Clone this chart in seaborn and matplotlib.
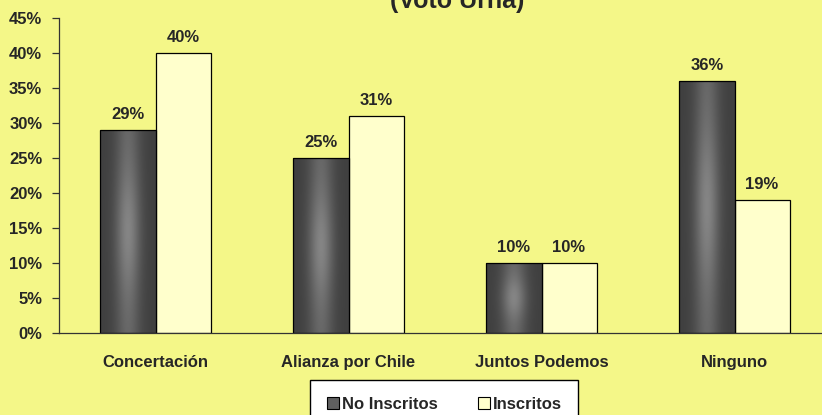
import numpy as np
import pandas as pd
import matplotlib
matplotlib.use("Agg")
import matplotlib.pyplot as plt
import seaborn as sns
from matplotlib.lines import Line2D

# datos
categorias = ["Concertación", "Alianza por Chile", "Juntos Podemos", "Ninguno"]
no_inscritos = [29, 25, 10, 36]
inscritos = [40, 31, 10, 19]
series = ["No Inscritos", "Inscritos"]
titulo = "(Voto Urna)"
yticks = [0, 5, 10, 15, 20, 25, 30, 35, 40, 45]

fondo = "#F4F788"
claro = "#FFFFCC"
oscuro = "#454545"

df = pd.DataFrame({
    "categoria": categorias * 2,
    "serie": [series[0]] * len(categorias) + [series[1]] * len(categorias),
    "valor": no_inscritos + inscritos,
})

sns.set_style("white")
plt.rcParams["font.family"] = ["Liberation Sans", "DejaVu Sans"]
plt.rcParams["font.weight"] = "bold"

fig = plt.figure(figsize=(8.22, 4.15), dpi=100, facecolor=fondo)
ax = fig.add_axes([59 / 822, 1 - 333 / 415, 772 / 822, 315 / 415])
ax.set_facecolor(fondo)

sns.barplot(data=df, x="categoria", y="valor", hue="serie", order=categorias,
            hue_order=series, palette=[oscuro, claro], width=0.57,
            edgecolor="black", linewidth=0.9, saturation=1, ax=ax, legend=False)

# degradado en las barras oscuras
n = len(categorias)
u = np.linspace(-1, 1, 60)
v = np.linspace(-1, 1, 120)
U, V = np.meshgrid(u, v)
brillo = np.exp(-(U / 0.45) ** 2) * (0.55 + 0.45 * np.exp(-(V / 0.6) ** 2))
for p in ax.patches[:n]:
    x0, y0 = p.get_x(), p.get_y()
    w, h = p.get_width(), p.get_height()
    g = 0.25 + 0.27 * brillo
    img = np.dstack([g, g, g])
    im = ax.imshow(img, extent=[x0, x0 + w, y0, y0 + h], aspect="auto",
                   origin="lower", zorder=1.5, interpolation="bilinear")
    im.set_clip_path(p)
    p.set_facecolor("none")
    p.set_zorder(2)

# etiquetas de valores
for p in ax.patches[:2 * n]:
    ax.annotate(f"{p.get_height():.0f}%", (p.get_x() + p.get_width() / 2, p.get_height()),
                xytext=(0, 6), textcoords="offset points", ha="center", va="bottom",
                fontsize=12, fontweight="bold")

ax.set_xlim(-0.5, n - 0.5)
ax.set_ylim(0, 45)
ax.set_yticks(yticks)
ax.set_yticklabels([f"{t}%" for t in yticks])
ax.set_xlabel("")
ax.set_ylabel("")

ax.set_xticks(np.arange(-0.5, n, 1.0), minor=True)
ax.tick_params(axis="x", which="major", length=0, pad=16, labelsize=12)
ax.tick_params(axis="x", which="minor", length=5, width=0.9, color="#333333", direction="out")
ax.tick_params(axis="y", length=5, width=0.9, color="#333333", direction="out",
               pad=7, labelsize=12, left=True)
for lab in ax.get_xticklabels() + ax.get_yticklabels():
    lab.set_fontweight("bold")

sns.despine(ax=ax)
for s in ["left", "bottom"]:
    ax.spines[s].set_color("#333333")
    ax.spines[s].set_linewidth(0.9)

fig.text(457 / 822, 1 - 8 / 415, titulo, ha="center", va="baseline",
         fontsize=18, fontweight="bold")

handles = [
    Line2D([], [], marker="s", linestyle="none", markersize=8,
           markerfacecolor="#606060", markeredgecolor="black", markeredgewidth=0.8),
    Line2D([], [], marker="s", linestyle="none", markersize=8,
           markerfacecolor=claro, markeredgecolor="black", markeredgewidth=0.8),
]
leg = fig.legend(handles, series, loc="upper left", bbox_to_anchor=(310 / 822, 1 - 380 / 415),
                 ncol=2, frameon=True, fancybox=False, framealpha=1, edgecolor="black",
                 facecolor="white", prop={"size": 12, "weight": "bold"},
                 handlelength=0.8, handletextpad=0.1, columnspacing=2.4,
                 borderpad=1.0, borderaxespad=0)
leg.get_frame().set_linewidth(1.0)

fig.savefig("out.png", dpi=100, facecolor=fondo)
